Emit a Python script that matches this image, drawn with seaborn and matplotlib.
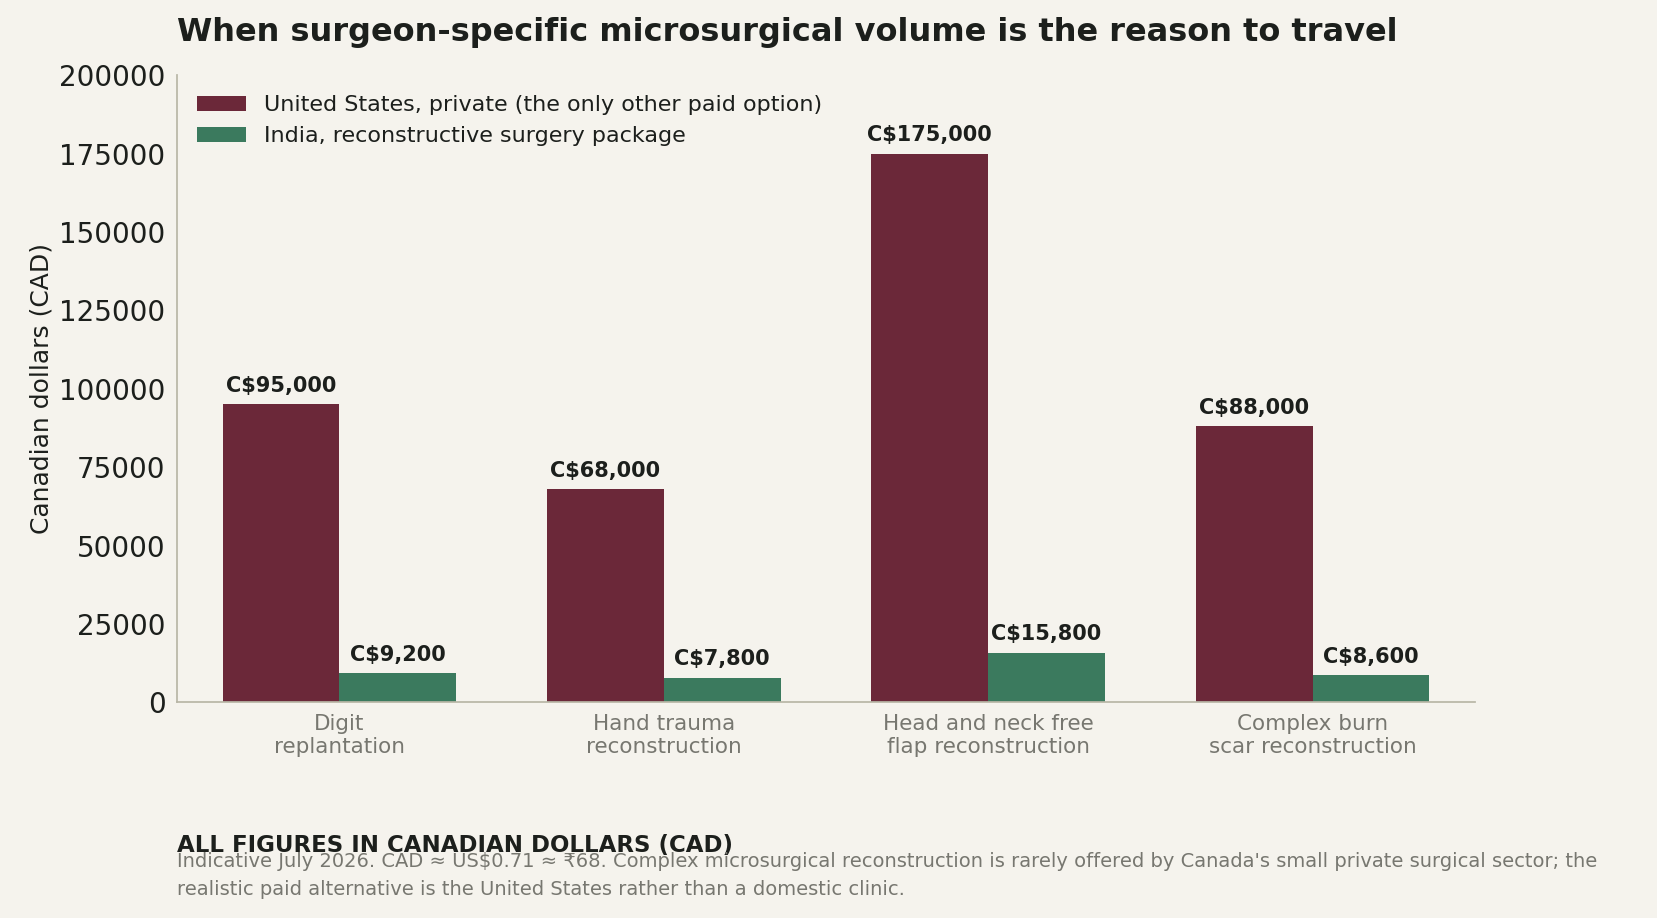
import matplotlib
matplotlib.use("Agg")
import matplotlib.pyplot as plt
import seaborn as sns
import pandas as pd

categories = ["Digit\nreplantation", "Hand trauma\nreconstruction", "Head and neck free\nflap reconstruction", "Complex burn\nscar reconstruction"]
series = ["United States, private (the only other paid option)", "India, reconstructive surgery package"]
us_values = [95000, 68000, 175000, 88000]
india_values = [9200, 7800, 15800, 8600]
yticks = [0, 25000, 50000, 75000, 100000, 125000, 150000, 175000, 200000]

bg = "#f5f3ed"
colors = ["#6b2839", "#3b7a5e"]
sns.set_theme(style="white")
plt.rcParams['font.family'] = ['DejaVu Sans']

df = pd.DataFrame({
    "cat": categories * 2,
    "series": [series[0]] * 4 + [series[1]] * 4,
    "val": us_values + india_values,
})

fig = plt.figure(figsize=(16.57, 9.18), dpi=100, facecolor=bg)
ax = fig.add_axes([0.107, 0.235, 0.783, 0.683])
ax.set_facecolor(bg)
sns.barplot(data=df, x="cat", y="val", hue="series", palette=colors, width=0.72,
            saturation=1, ax=ax, errorbar=None, linewidth=0)
for cont in ax.containers:
    ax.bar_label(cont, labels=[f"C${v:,.0f}" for v in cont.datavalues], padding=6,
                 fontsize=15, fontweight="bold", color="#1c1f1c")
ax.set_ylim(0, 200000)
ax.set_yticks(yticks)
ax.set_yticklabels([str(t) for t in yticks], fontsize=20, color="#1c1f1c")
ax.set_xlabel("")
ax.set_ylabel("Canadian dollars (CAD)", fontsize=18, color="#1c1f1c")
ax.tick_params(axis="x", labelsize=15.5, labelcolor="#777770", length=5, color="#777770")
ax.tick_params(axis="y", length=5, color="#b8b6a6")
for s in ["top", "right"]:
    ax.spines[s].set_visible(False)
for s in ["left", "bottom"]:
    ax.spines[s].set_color("#b8b6a6")
leg = ax.legend(loc="upper left", frameon=False, fontsize=16, handlelength=2.2)
for t in leg.get_texts():
    t.set_color("#1c1f1c")
fig.text(0.107, 0.965, "When surgeon-specific microsurgical volume is the reason to travel",
         fontsize=23, fontweight="bold", color="#1c1f1c", ha="left", va="center")
fig.text(0.107, 0.079, "ALL FIGURES IN CANADIAN DOLLARS (CAD)", fontsize=16.5, fontweight="bold",
         color="#1c1f1c", ha="left", va="center")
fig.text(0.107, 0.046, "Indicative July 2026. CAD ≈ US$0.71 ≈ ₹68. Complex microsurgical reconstruction is rarely offered by Canada's small private surgical sector; the\nrealistic paid alternative is the United States rather than a domestic clinic.",
         fontsize=14, color="#777770", ha="left", va="center", linespacing=1.6)
fig.savefig("out.png", dpi=100, facecolor=bg)
